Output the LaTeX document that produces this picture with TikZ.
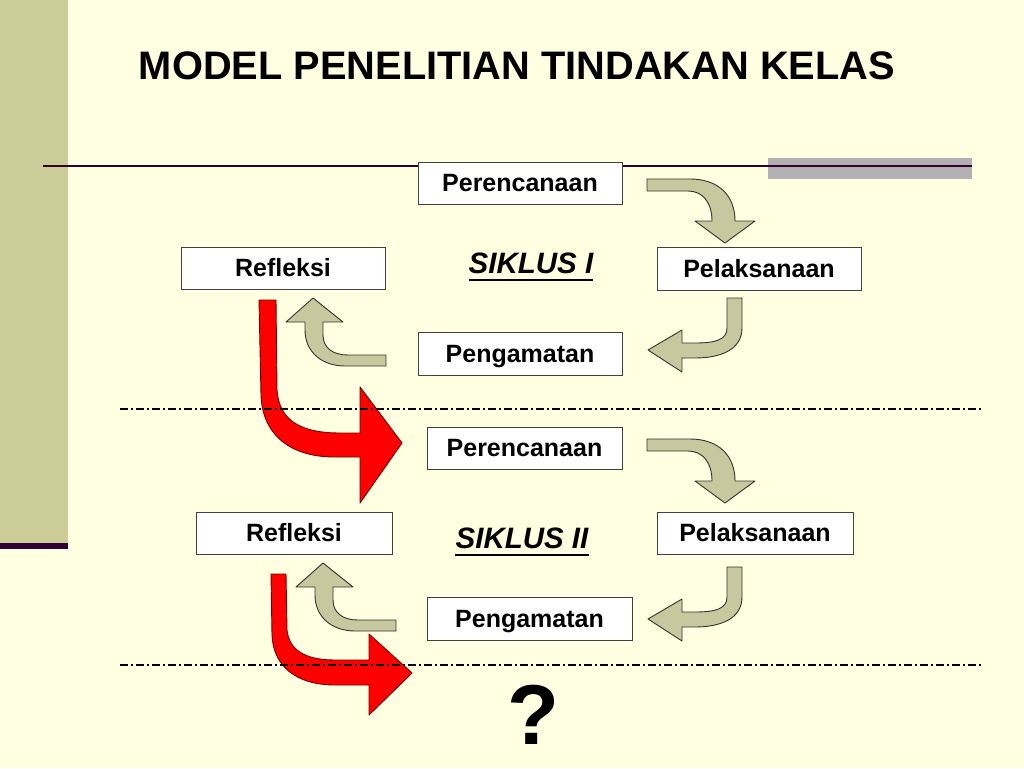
\documentclass[tikz,border=0pt]{standalone}
\usepackage{fontspec}
\setmainfont{Liberation Sans}
\begin{document}
\begin{tikzpicture}[x=1pt,y=-1pt,
  stagebox/.style={draw=black!75,line width=0.9pt,fill=white,inner sep=0pt,
    font=\fontsize{25}{30}\selectfont\bfseries,text height=17.9pt,text depth=0pt},
  olivearrow/.style={fill=arrolive,draw=black!80,line width=0.9pt,line join=round},
  redarrow/.style={fill=red,draw=red!45!black,line width=0.9pt,line join=round},
  cycletext/.style={font=\fontsize{29.5}{33}\selectfont\bfseries\itshape,inner sep=0pt,text height=21.1pt,text depth=0pt},
  dashdot/.style={line width=1.1pt,dash pattern=on 8pt off 3pt on 2pt off 3pt}
]
\definecolor{bgyellow}{RGB}{255,255,226}
\definecolor{barolive}{RGB}{204,204,153}
\definecolor{arrolive}{RGB}{200,200,158}
\definecolor{darkpurple}{RGB}{51,0,51}
\definecolor{bargray}{RGB}{178,176,178}
\useasboundingbox (0,0) rectangle (1024,768);
\fill[bgyellow] (0,0) rectangle (1024,768);
% left bar
\fill[barolive] (0,0) rectangle (68,545);
\fill[darkpurple] (0,543) rectangle (68,549);
% top rule
\fill[bargray] (768,158) rectangle (972,179);
\draw[darkpurple,line width=2pt] (43,166) -- (972,166);
% title
\node[font=\fontsize{39.8}{44}\selectfont\bfseries,inner sep=0pt,text height=28.5pt,text depth=0pt] (title) at (517,65) {MODEL PENELITIAN TINDAKAN KELAS};
% red arrows
\draw[redarrow] (259,300) -- (276,300) -- (277,390) .. controls (279,420) and (300,433) .. (340,433) -- (360,433) -- (360,387) -- (402,443) -- (360,503) -- (360,457) -- (335,457) .. controls (285,457) and (262,430) .. (261,395) -- cycle;
\draw[redarrow] (271,574) -- (286,574) -- (287,630) .. controls (289,650) and (305,660) .. (335,660) -- (369,660) -- (369,634) -- (412,673) -- (369,715) -- (369,685) -- (335,685) .. controls (295,685) and (273,665) .. (272,635) -- cycle;
% dash-dot separators
\coordinate (d1a) at (120,409); \coordinate (d1b) at (982,409);
\coordinate (d2a) at (120,665); \coordinate (d2b) at (982,665);
\draw[dashdot] (d1a) -- (d1b);
\draw[dashdot] (d2a) -- (d2b);
% cycle arrows
\foreach \dy/\dyb/\dxc/\dyc in {0/0/0/0, 260/269/10/265}{
  \draw[olivearrow] (647,179+\dy) -- (690,179+\dy) .. controls (718,179+\dy) and (735,195+\dy) .. (735,221+\dy) -- (755,221+\dy) -- (725,243+\dy) -- (695,221+\dy) -- (712,221+\dy) .. controls (712,203+\dy) and (703,191+\dy) .. (688,191+\dy) -- (647,191+\dy) -- cycle;
  \draw[olivearrow] (727,298+\dyb) -- (742,298+\dyb) -- (742,328+\dyb) .. controls (742,350+\dyb) and (720,358+\dyb) .. (695,358+\dyb) -- (682,358+\dyb) -- (682,372+\dyb) -- (648,350+\dyb) -- (682,330+\dyb) -- (682,343+\dyb) -- (695,343+\dyb) .. controls (715,343+\dyb) and (727,340+\dyb) .. (727,328+\dyb) -- cycle;
  \draw[olivearrow] (313+\dxc,298+\dyc) -- (343+\dxc,322+\dyc) -- (323+\dxc,322+\dyc) -- (323+\dxc,335+\dyc) .. controls (323+\dxc,348+\dyc) and (333+\dxc,355+\dyc) .. (348+\dxc,355+\dyc) -- (386+\dxc,355+\dyc) -- (386+\dxc,366+\dyc) -- (345+\dxc,366+\dyc) .. controls (322+\dxc,366+\dyc) and (305+\dxc,352+\dyc) .. (305+\dxc,330+\dyc) -- (305+\dxc,322+\dyc) -- (286+\dxc,322+\dyc) -- cycle;
}
% stage boxes
\node[stagebox,minimum width=204,minimum height=42] (p1) at (520,183) {Perencanaan};
\node[stagebox,minimum width=204,minimum height=42] (r1) at (283,268) {Refleksi};
\node[stagebox,minimum width=204,minimum height=43] (l1) at (759,268.5) {Pelaksanaan};
\node[stagebox,minimum width=204,minimum height=43] (g1) at (520,353.5) {Pengamatan};
\node[stagebox,minimum width=195,minimum height=42] (p2) at (524.5,448) {Perencanaan};
\node[stagebox,minimum width=196,minimum height=42] (r2) at (294,533) {Refleksi};
\node[stagebox,minimum width=196,minimum height=42] (l2) at (755,533) {Pelaksanaan};
\node[stagebox,minimum width=205,minimum height=43] (g2) at (529.5,618.5) {Pengamatan};
% cycle labels
\node[cycletext] (s1) at (531,263) {SIKLUS I};
\draw[line width=2pt] ([yshift=-6pt]s1.south west) -- ([yshift=-6pt]s1.south east);
\node[cycletext] (s2) at (522,538) {SIKLUS II};
\draw[line width=2pt] ([yshift=-6pt]s2.south west) -- ([yshift=-6pt]s2.south east);
% question mark
\node[font=\fontsize{85}{90}\selectfont\bfseries,inner sep=0pt,text height=60.9pt,text depth=0pt] (q) at (533,714) {?};
\end{tikzpicture}
\end{document}
